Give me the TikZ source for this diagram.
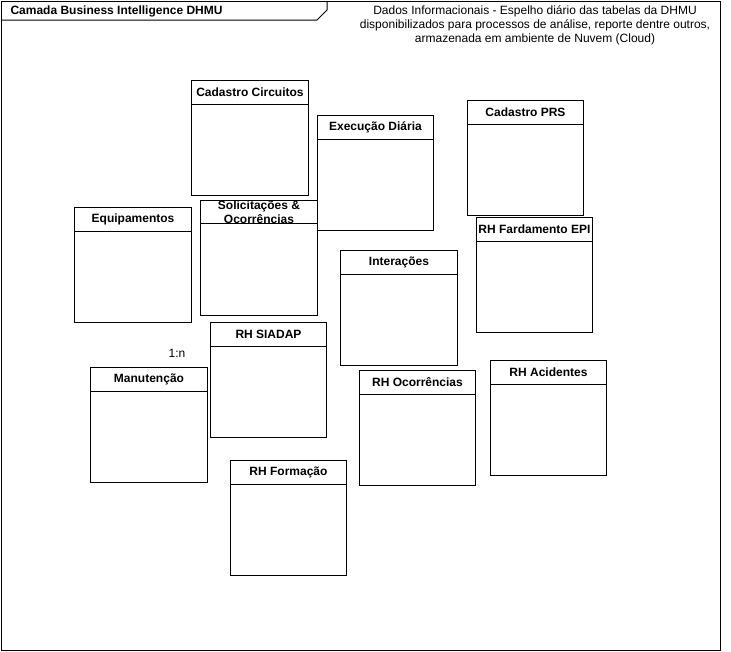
\documentclass[tikz,border=0pt]{standalone}
\usepackage{fontspec}
\setmainfont{Liberation Sans}

\tikzset{
  entity/.style={draw, fill=white, line width=0.75pt, inner sep=0pt,
    minimum width=87.4pt, minimum height=86.25pt,
    path picture={\draw[line width=0.75pt]
      ([yshift=-#1]path picture bounding box.north west) --
      ([yshift=-#1]path picture bounding box.north east);}},
  entity/.default=18pt,
  entitytitle/.style={anchor=north, inner sep=0pt, minimum height=18pt,
    font=\fontsize{9pt}{10.5pt}\selectfont\bfseries, align=center}
}

\begin{document}
\begin{tikzpicture}[x=0.75pt, y=-0.75pt, line width=0.75pt]

  \useasboundingbox (0,0) rectangle (731,651);

  % frame with tab
  \coordinate (frame-nw) at (1,1);
  \coordinate (frame-se) at (720,650);
  \draw (frame-nw) rectangle (frame-se);
  \coordinate (tab-a) at (1,20);
  \coordinate (tab-b) at (317,20);
  \coordinate (tab-c) at (327,10);
  \coordinate (tab-d) at (327,1);
  \draw (tab-a) -- (tab-b) -- (tab-c) -- (tab-d);

  \node[anchor=west, inner sep=0pt, font=\fontsize{9pt}{10.5pt}\selectfont\bfseries]
    (layer) at (10,11) {Camada Business Intelligence DHMU};

  \node[align=center, inner sep=0pt, font=\fontsize{9pt}{10.5pt}\selectfont]
    (note) at (535,25) {Dados Informacionais - Espelho diário das tabelas da DHMU\\
    disponibilizados para processos de análise, reporte dentre outros,\\
    armazenada em ambiente de Nuvem (Cloud)};

  % tables
  \node[entity] (circuitos) at (250,137.5) {};
  \node[entitytitle] (circuitos-t) at (circuitos.north) {Cadastro Circuitos};

  \node[entity] (execucao) at (375.5,172.5) {};
  \node[entitytitle] (execucao-t) at (execucao.north) {Execução Diária};

  \node[entity] (prs) at (525.5,157.5) {};
  \node[entitytitle] (prs-t) at (prs.north) {Cadastro PRS};

  \node[entity] (equipamentos) at (133,264.5) {};
  \node[entitytitle] (equipamentos-t) at (equipamentos.north) {Equipamentos};

  \node[entity=17.25pt] (solicitacoes) at (259,257.5) {};
  \node[entitytitle] (solicitacoes-t) at (solicitacoes.north) {Solicitações \&\\Ocorrências};

  \node[entity] (fardamento) at (534.5,274.5) {};
  \node[entitytitle] (fardamento-t) at (fardamento.north) {RH Fardamento EPI};

  \node[entity] (interacoes) at (399,307.5) {};
  \node[entitytitle] (interacoes-t) at (interacoes.north) {Interações};

  \node[entity] (siadap) at (268.5,379.5) {};
  \node[entitytitle] (siadap-t) at (siadap.north) {RH SIADAP};

  \node[entity] (manutencao) at (149,424.5) {};
  \node[entitytitle] (manutencao-t) at (manutencao.north) {Manutenção};

  \node[entity] (ocorrencias) at (417.5,427.5) {};
  \node[entitytitle] (ocorrencias-t) at (ocorrencias.north) {RH Ocorrências};

  \node[entity] (acidentes) at (548.5,417.5) {};
  \node[entitytitle] (acidentes-t) at (acidentes.north) {RH Acidentes};

  \node[entity] (formacao) at (288.5,517.5) {};
  \node[entitytitle] (formacao-t) at (formacao.north) {RH Formação};

  \node[inner sep=0pt, font=\fontsize{9pt}{10.5pt}\selectfont] (card) at (177,353) {1:n};

\end{tikzpicture}
\end{document}
